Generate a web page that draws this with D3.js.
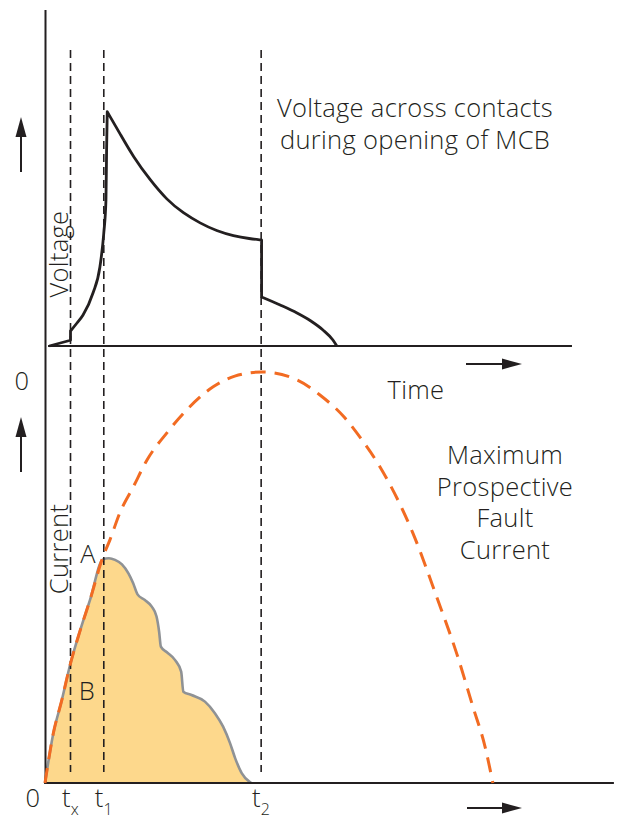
<!DOCTYPE html>
<html>
<head>
<meta charset="utf-8">
<script src="https://cdn.jsdelivr.net/npm/d3@7"></script>
<style>
  html, body { margin: 0; padding: 0; background: #fff; }
  svg { display: block; }
  text { font-family: "Open Sans", "Roboto", "Liberation Sans", sans-serif; font-weight: 300; fill: #231f20; letter-spacing: 0.3px; }
</style>
</head>
<body>
<svg id="chart" width="622" height="820"></svg>
<script>
// ---- data (time in arbitrary units, values in % of scale) ----
const markTimes = [5.9, 13.6, 50.0];
const markSubs = ["x", "1", "2"];

// voltage across contacts, piecewise (vertical jumps between segments)
const voltageSeg1 = [[1.0, 0], [5.9, 2.3]];
const voltageSeg2 = [[5.9, 6], [7.4, 9.2], [8.8, 12.4], [11.1, 21.2], [12.7, 31.6], [13.6, 45.2], [14.1, 58.4], [14.25, 78.4], [14.4, 93.7]];
const voltageSeg3 = [[14.4, 93.7], [17.3, 85.1], [20.4, 75.7], [24.3, 66.4], [28.2, 58.4], [32.0, 53.1], [35.9, 49.1], [39.7, 46.0], [43.6, 44.0], [47.4, 42.9], [50.1, 42.4]];
const voltageSeg4 = [[50.1, 19.6], [54.4, 16.4], [58.3, 13.2], [61.5, 10], [64.3, 6.4], [66.6, 2.4], [67.5, 0]];

// maximum prospective fault current
const prospective = [[0, 0], [1.85, 11.7], [3.9, 20.2], [5.8, 28.7], [8.1, 37.0], [10.4, 44.5], [13.4, 55.0], [15.0, 59.1], [17.3, 65.7], [20.4, 72.0], [23.6, 78.6], [28.2, 85.2], [32.8, 90.8], [38.9, 96.4], [43.9, 99.0], [50.2, 100], [58.3, 98.1], [63.6, 94.4], [69.4, 88.8], [73.3, 83.5], [77.5, 76.9], [85.1, 60.8], [90.7, 45.0], [95.3, 31.3], [99.0, 18.5], [101.8, 8.8], [103.6, 0]];

// actual let-through current (shaded)
const letThrough = [[0, 0], [1.85, 11.7], [3.9, 20.2], [5.8, 28.7], [8.1, 37.0], [10.4, 44.5], [13.4, 54.4], [14.8, 54.7], [16.2, 54.3], [17.8, 53.2], [19.3, 51.0], [20.4, 48.6], [21.4, 45.9], [23.1, 44.5], [24.7, 42.9], [25.8, 40.5], [26.4, 36.8], [26.8, 33.2], [28.2, 31.8], [30.1, 29.9], [31.5, 27.1], [32.0, 22.2], [33.9, 21.4], [37.0, 19.8], [39.3, 17.0], [41.2, 13.7], [42.8, 9.7], [44.0, 6.0], [45.5, 2.4], [47.4, 0.2], [47.7, 0]];

const topAxisExtent = [0.7, 121.9];
const bottomAxisExtent = [-0.2, 131.6];
const voltageAxisTop = 134.4;

const titleLines = ["Voltage across contacts", "during opening of MCB"];
const prospectiveLines = ["Maximum", "Prospective", "Fault", "Current"];

// ---- scales ----
const svg = d3.select("#chart");
const x = d3.scaleLinear().domain([0, 130]).range([45, 45 + 130 * 4.323]);
const yV = d3.scaleLinear().domain([0, 100]).range([346, 96]);
const yI = d3.scaleLinear().domain([0, 100]).range([783, 372]);

const ink = "#231f20";
const orange = "#f26b22";

// ---- shaded let-through current ----
svg.append("path")
  .datum(letThrough)
  .attr("d", d3.area().x(d => x(d[0])).y0(yI(0)).y1(d => yI(d[1])).curve(d3.curveMonotoneX))
  .attr("fill", "#fdd88c");
svg.append("path")
  .datum(letThrough)
  .attr("d", d3.line().x(d => x(d[0])).y(d => yI(d[1])).curve(d3.curveMonotoneX))
  .attr("fill", "none").attr("stroke", "#8f9295").attr("stroke-width", 2.6).attr("stroke-linejoin", "round");

// ---- dashed time markers ----
svg.selectAll("line.mark").data(markTimes).join("line")
  .attr("class", "mark")
  .attr("x1", d => x(d)).attr("x2", d => x(d))
  .attr("y1", 50).attr("y2", 772)
  .attr("stroke", ink).attr("stroke-width", 1.6).attr("stroke-dasharray", "8,5");

// ---- axes ----
svg.append("line").attr("x1", x(0) + 0.5).attr("x2", x(0) + 0.5)
  .attr("y1", yV(voltageAxisTop)).attr("y2", yI(0) + 1)
  .attr("stroke", ink).attr("stroke-width", 2);
svg.append("line").attr("x1", x(topAxisExtent[0])).attr("x2", x(topAxisExtent[1]))
  .attr("y1", yV(0)).attr("y2", yV(0)).attr("stroke", ink).attr("stroke-width", 2);
svg.append("line").attr("x1", x(bottomAxisExtent[0])).attr("x2", x(bottomAxisExtent[1]))
  .attr("y1", yI(0)).attr("y2", yI(0)).attr("stroke", ink).attr("stroke-width", 2);

// ---- voltage curve ----
const linLine = d3.line().x(d => x(d[0])).y(d => yV(d[1]));
const monoLine = d3.line().x(d => x(d[0])).y(d => yV(d[1])).curve(d3.curveMonotoneX);
const smoothLine = d3.line().x(d => x(d[0])).y(d => yV(d[1])).curve(d3.curveBasis);
const vPath = linLine(voltageSeg1)
  + monoLine(voltageSeg2).replace(/^M/, "L")
  + smoothLine(voltageSeg3).replace(/^M/, "L")
  + monoLine(voltageSeg4).replace(/^M/, "L");
svg.append("path").attr("d", vPath)
  .attr("fill", "none").attr("stroke", ink).attr("stroke-width", 2.8)
  .attr("stroke-linejoin", "round");

// ---- prospective current (dashed orange) ----
svg.append("path")
  .datum(prospective)
  .attr("d", d3.line().x(d => x(d[0])).y(d => yI(d[1])).curve(d3.curveMonotoneX))
  .attr("fill", "none").attr("stroke", orange).attr("stroke-width", 3)
  .attr("stroke-dasharray", "15,9");

// ---- arrows ----
function arrowUp(cx, tipY, tailY) {
  svg.append("line").attr("x1", cx).attr("x2", cx).attr("y1", tailY).attr("y2", tipY + 12)
    .attr("stroke", ink).attr("stroke-width", 2);
  svg.append("path").attr("d", `M${cx},${tipY} L${cx - 5.5},${tipY + 20} L${cx + 5.5},${tipY + 20} Z`).attr("fill", ink);
}
function arrowRight(cy, tailX, tipX) {
  svg.append("line").attr("x1", tailX).attr("x2", tipX - 12).attr("y1", cy).attr("y2", cy)
    .attr("stroke", ink).attr("stroke-width", 2);
  svg.append("path").attr("d", `M${tipX},${cy} L${tipX - 20},${cy - 5.5} L${tipX - 20},${cy + 5.5} Z`).attr("fill", ink);
}
arrowUp(21, 117, 172);
arrowUp(21, 417, 472);
arrowRight(364, 466, 522);
arrowRight(808, 467, 522);

// ---- text ----
const fs = 25.5;
svg.append("text").attr("text-anchor", "middle").attr("font-size", fs)
  .selectAll("tspan").data(titleLines).join("tspan")
  .attr("x", 415).attr("y", (d, i) => 117 + i * 31.5).text(d => d);
svg.append("text").attr("text-anchor", "middle").attr("font-size", fs)
  .selectAll("tspan").data(prospectiveLines).join("tspan")
  .attr("x", 505).attr("y", (d, i) => 464 + i * 31.7).text(d => d);
svg.append("text").attr("x", 416).attr("y", 399).attr("text-anchor", "middle").attr("font-size", fs).text("Time");
svg.append("text").attr("transform", "translate(68,254) rotate(-90)").attr("text-anchor", "middle").attr("font-size", fs).text("Voltage");
svg.append("text").attr("transform", "translate(68,549) rotate(-90)").attr("text-anchor", "middle").attr("font-size", fs).text("Current");
svg.append("text").attr("x", 22).attr("y", 390).attr("text-anchor", "middle").attr("font-size", fs).text("0");
svg.append("text").attr("x", 33).attr("y", 807).attr("text-anchor", "middle").attr("font-size", fs).text("0");
svg.append("text").attr("x", 88).attr("y", 563).attr("text-anchor", "middle").attr("font-size", fs).text("A");
svg.append("text").attr("x", 87).attr("y", 700).attr("text-anchor", "middle").attr("font-size", fs).text("B");

markTimes.forEach((t, i) => {
  const tx = svg.append("text").attr("x", x(t)).attr("y", 807).attr("text-anchor", "middle").attr("font-size", fs);
  tx.append("tspan").text("t");
  tx.append("tspan").attr("font-size", 16).attr("dy", 8).text(markSubs[i]);
});
</script>
</body>
</html>
